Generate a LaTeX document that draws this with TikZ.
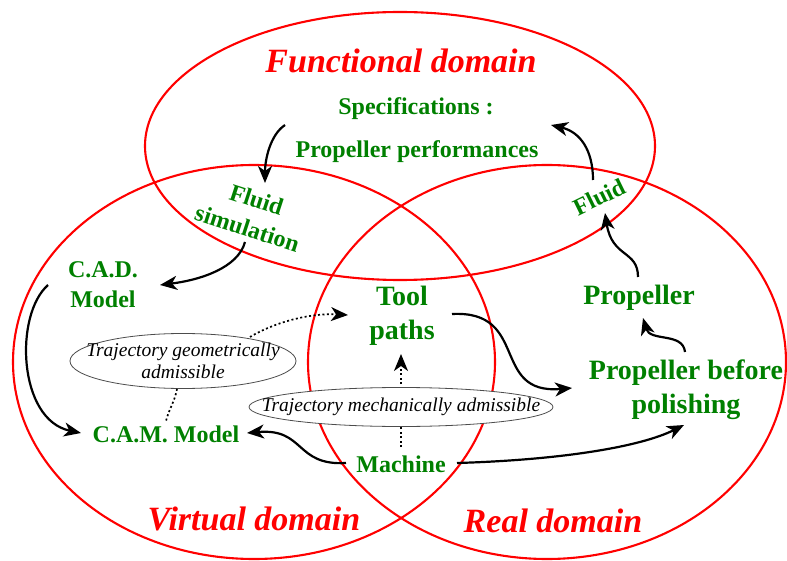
\documentclass[tikz,border=0pt]{standalone}
\usepackage{fontspec}
\setmainfont{Liberation Serif}
\usetikzlibrary{arrows.meta, shapes.geometric}
\definecolor{dgreen}{RGB}{0,128,0}

\begin{document}
\begin{tikzpicture}[x=1pt, y=-1pt,
  realm/.style={draw=red, line width=2.1pt},
  dname/.style={text=red, font=\fontsize{34}{40}\selectfont\bfseries\itshape},
  lbl/.style={text=dgreen, align=center, font=\fontsize{24}{30}\selectfont\bfseries},
  biglbl/.style={text=dgreen, align=center, font=\fontsize{28}{34}\selectfont\bfseries},
  traj/.style={ellipse, draw=black!70, fill=white, line width=0.8pt, inner xsep=-60pt, inner ysep=0pt, align=center, font=\fontsize{19.5}{22}\selectfont\itshape},
  >={Stealth[length=17pt, width=14pt, inset=5pt]},
  flow/.style={->, line width=2.2pt},
  hint/.style={line width=1.7pt, dash pattern=on 2pt off 2.5pt}]
\useasboundingbox (0,0) rectangle (787,561);
\draw[realm] (400,146) ellipse [x radius=255pt, y radius=134pt];
\draw[realm] (254,362) ellipse [x radius=241pt, y radius=197pt];
\draw[realm] (547,362) ellipse [x radius=239pt, y radius=197pt];

\node[dname, anchor=base] (func) at (401,73) {Functional domain};
\node[dname, anchor=base] (virt) at (254,530) {Virtual domain};
\node[dname, anchor=base] (real) at (553,532) {Real domain};

\node[lbl, anchor=base] (spec) at (416,115) {Specifications :};
\node[lbl, anchor=base] (perf) at (417,158) {Propeller performances};
\node[lbl, rotate=-18] (fsim) at (252,214) {Fluid\\simulation};
\node[lbl] (cad) at (103,285) {C.A.D.\\Model};
\node[lbl, anchor=base] (cam) at (166,442) {C.A.M. Model};
\node[lbl, anchor=base] (mach) at (401,472) {Machine};
\node[lbl, rotate=26] (fluid) at (599,197) {Fluid};
\node[biglbl] (tool) at (402,316) {Tool\\paths};
\node[biglbl, anchor=base] (prop) at (639,305) {Propeller};
\node[biglbl] (pbp) at (686,390) {Propeller before\\polishing};
\node[traj, minimum width=226pt, minimum height=55pt] (geom) at (183,361) {Trajectory geometrically\\admissible};

\draw[flow] ([shift={(-132,-33)}]perf.base) .. controls +(-15,10) and +(0,-23) .. ([shift={(13,-31)}]fsim.center);
\draw[flow] ([shift={(-7,28)}]fsim.center) .. controls +(-7,26) and +(40,-5) .. ([shift={(57,0)}]cad.center);
\draw[flow] ([shift={(-55,0)}]cad.center) .. controls +(-34,30) and +(-63,-13) .. ([shift={(-85,-9)}]cam.base);
\draw[hint, ->] ([shift={(67,-24)}]geom.center) .. controls +(25,-15) and +(-38,-2) .. ([shift={(-54,-1)}]tool.center);
\draw[hint] ([shift={(-6,0)}]geom.south) .. controls +(-2,12) and +(3,-12) .. ([shift={(0,-21)}]cam.base);
\draw[hint, ->] ([shift={(0,-25)}]mach.base) -- ([shift={(-1,38)}]tool.center);
\draw[flow] ([shift={(-55,-9)}]mach.base) .. controls +(-51,3) and +(58,-5) .. ([shift={(81,-9)}]cam.base);
\draw[flow] ([shift={(56,-9)}]mach.base) .. controls +(103,-3) and +(-44,22) .. ([shift={(-2,35)}]pbp.center);
\draw[flow] ([shift={(50,-2)}]tool.center) .. controls +(78,-4) and +(-82,7) .. ([shift={(-114,-2)}]pbp.center);
\draw[flow] ([shift={(-1,-38)}]pbp.center) .. controls +(-2,-20) and +(7,24) .. ([shift={(4,13)}]prop.base);
\draw[flow] ([shift={(-1,-28)}]prop.base) .. controls +(0,-27) and +(7,45) .. ([shift={(6,16)}]fluid.center);
\draw[flow] ([shift={(-6,-17)}]fluid.center) .. controls +(0,-30) and +(29,7) .. ([shift={(135,10)}]spec.base);

\node[traj, minimum width=304pt, minimum height=39pt] (mech) at (401,407) {Trajectory mechanically admissible};
\end{tikzpicture}
\end{document}
